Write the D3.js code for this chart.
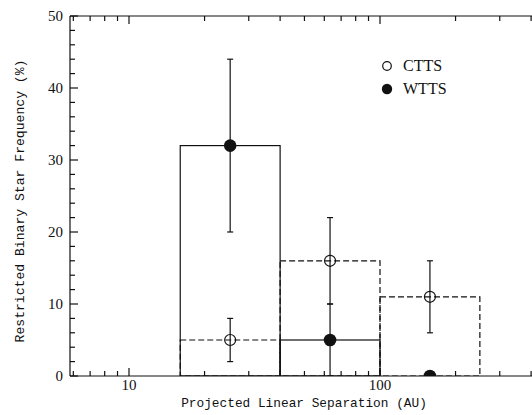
<!DOCTYPE html>
<html><head><meta charset="utf-8">
<script src="https://cdn.jsdelivr.net/npm/d3@7"></script>
<style>body{margin:0;background:#fff}svg{display:block}</style>
</head><body>
<svg id="c" width="532" height="415"></svg>
<script>
// ---- data ----
const binEdges = [16, 40, 100, 250];
const cttsFreq = [5, 16, 11];
const cttsLow  = [2, 10, 6];
const cttsHigh = [8, 22, 16];
const wttsFreq = [32, 5, 0];
const wttsLow  = [20, 0, null];
const wttsHigh = [44, 10, null];
const yTicksMajor = [0, 10, 20, 30, 40, 50];
const xTickLabels = [10, 100];
const seriesNames = ["CTTS", "WTTS"];

// ---- layout ----
const svg = d3.select("#c");
const L = 70, R = 540, T = 16, B = 376;
const x = d3.scaleLog().domain([5.82, 434]).range([L, R]);
const y = d3.scaleLinear().domain([0, 50]).range([B, T]);
const ink = "#111";

svg.append("defs").append("clipPath").attr("id","clip")
  .append("rect").attr("x", L).attr("y", T).attr("width", R - L).attr("height", B - T);

// axes frame
const ax = svg.append("g").attr("stroke", ink).attr("stroke-width", 1.2).attr("fill","none");
ax.append("line").attr("x1", L).attr("x2", R).attr("y1", B).attr("y2", B);
ax.append("line").attr("x1", L).attr("x2", R).attr("y1", T).attr("y2", T);
ax.append("line").attr("x1", L).attr("x2", L).attr("y1", T).attr("y2", B);

// y ticks (inward)
d3.range(0, 51, 2).forEach(v => {
  const major = v % 10 === 0;
  ax.append("line").attr("x1", L).attr("x2", L + (major ? 8 : 5))
    .attr("y1", y(v)).attr("y2", y(v));
});
// x ticks (log, inward, bottom and top)
const xt = [];
for (let d = 1; d <= 100; d *= 10) for (let m = 1; m <= 9; m++) {
  const v = d * m; if (v >= 5.82 && v <= 434) xt.push(v);
}
xt.forEach(v => {
  const major = xTickLabels.includes(v);
  const len = major ? 8 : 5;
  ax.append("line").attr("x1", x(v)).attr("x2", x(v)).attr("y1", B).attr("y2", B - len);
  ax.append("line").attr("x1", x(v)).attr("x2", x(v)).attr("y1", T).attr("y2", T + len);
});

// tick labels
const lab = svg.append("g").attr("fill", ink)
  .attr("font-family", "'Liberation Serif','Times New Roman',serif").attr("font-size", 15);
yTicksMajor.forEach(v => {
  lab.append("text").attr("x", 63).attr("y", y(v) + 5).attr("text-anchor", "end").text(v);
});
xTickLabels.forEach(v => {
  lab.append("text").attr("x", x(v)).attr("y", 390).attr("text-anchor", "middle").text(v);
});

// axis titles
const mono = "'Liberation Mono','Courier New',monospace";
svg.append("text").attr("x", 304).attr("y", 407).attr("text-anchor", "middle")
  .attr("font-family", mono).attr("font-size", 12.8).attr("fill", ink)
  .text("Projected Linear Separation (AU)");
svg.append("text").attr("transform", "translate(24,201) rotate(-90)").attr("text-anchor", "middle")
  .attr("font-family", mono).attr("font-size", 13.1).attr("fill", ink)
  .text("Restricted Binary Star Frequency (%)");

// histograms
const plot = svg.append("g").attr("clip-path", "url(#clip)");
function bars(vals, dash) {
  vals.forEach((v, i) => {
    if (v <= 0) return;
    plot.append("rect")
      .attr("x", x(binEdges[i])).attr("width", x(binEdges[i + 1]) - x(binEdges[i]))
      .attr("y", y(v)).attr("height", y(0) - y(v))
      .attr("fill", "none").attr("stroke", ink).attr("stroke-width", 1.2)
      .attr("stroke-dasharray", dash);
  });
}
bars(cttsFreq, "6,3");
bars(wttsFreq, null);

const centers = binEdges.slice(0, -1).map((e, i) => Math.sqrt(e * binEdges[i + 1]));
function errs(vals, lo, hi) {
  vals.forEach((v, i) => {
    if (lo[i] == null) return;
    const cx = x(centers[i]);
    plot.append("line").attr("x1", cx).attr("x2", cx).attr("y1", y(lo[i])).attr("y2", y(hi[i]))
      .attr("stroke", ink).attr("stroke-width", 1.2);
    [lo[i], hi[i]].forEach(e => {
      plot.append("line").attr("x1", cx - 3).attr("x2", cx + 3).attr("y1", y(e)).attr("y2", y(e))
        .attr("stroke", ink).attr("stroke-width", 1.2);
    });
  });
}
errs(cttsFreq, cttsLow, cttsHigh);
errs(wttsFreq, wttsLow, wttsHigh);

cttsFreq.forEach((v, i) => {
  plot.append("circle").attr("cx", x(centers[i])).attr("cy", y(v)).attr("r", 5.5)
    .attr("fill", "none").attr("stroke", ink).attr("stroke-width", 1.2);
});
wttsFreq.forEach((v, i) => {
  plot.append("circle").attr("cx", x(centers[i])).attr("cy", y(v)).attr("r", 6.3).attr("fill", ink);
});

// legend
const lg = svg.append("g");
lg.append("circle").attr("cx", 387).attr("cy", 66).attr("r", 4.3)
  .attr("fill", "none").attr("stroke", ink).attr("stroke-width", 1.2);
lg.append("circle").attr("cx", 387).attr("cy", 89).attr("r", 5.2).attr("fill", ink);
seriesNames.forEach((n, i) => {
  lg.append("text").attr("x", 403).attr("y", 71 + i * 23)
    .attr("font-family", "'Liberation Serif','Times New Roman',serif").attr("font-size", 16)
    .attr("fill", ink).text(n);
});
</script>
</body></html>
